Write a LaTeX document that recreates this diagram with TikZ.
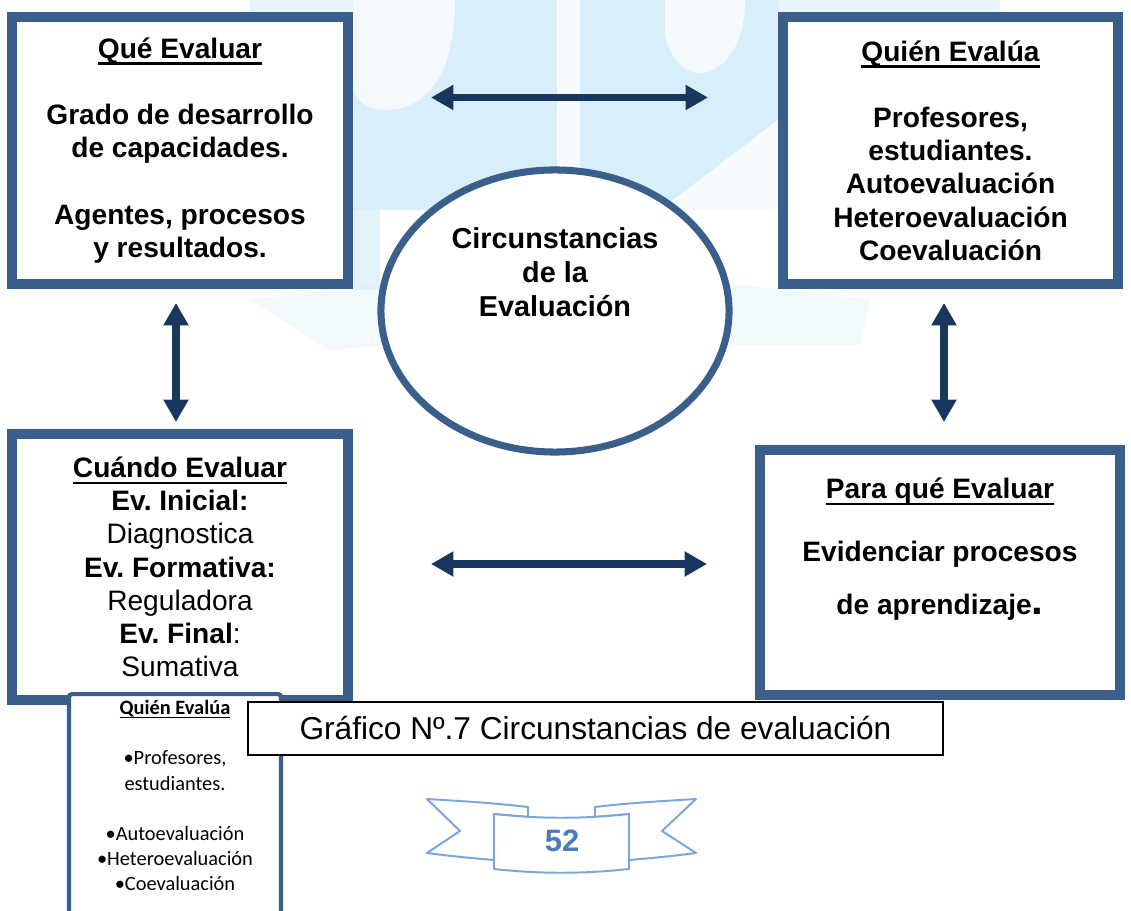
\documentclass[tikz,border=0pt]{standalone}
\usepackage{fontspec}
\setmainfont{Liberation Sans}
\newfontfamily\carlito{Carlito}
\usetikzlibrary{positioning,arrows.meta,shapes.geometric}
\definecolor{boxblue}{HTML}{3A5F8B}
\definecolor{arrowblue}{HTML}{17375E}
\definecolor{ribbonblue}{HTML}{7BA6DD}
\definecolor{numblue}{HTML}{4A7EBB}
\definecolor{wmblue}{HTML}{D8EEFB}
\frenchspacing
% underlined title: #1 drop, #2 rule thickness, #3 text
\newcommand{\ultxt}[3]{\leavevmode\setbox0=\hbox{#3}\rlap{\rule[-#1]{\wd0}{#2}}\box0}

\begin{document}
\begin{tikzpicture}[x=0.025cm,y=-0.025cm,
  evalbox/.style={draw=boxblue, line width=7pt, fill=white, align=center, inner sep=0pt,
    font=\fontsize{20}{23.6}\selectfont\bfseries},
  dblarrow/.style={{Triangle[length=16pt,width=17pt]}-{Triangle[length=16pt,width=17pt]},
    line width=5.5pt, arrowblue},
  wm/.style={fill=wmblue}]

\clip (0,0) rectangle (1131,911);
\fill[white] (0,0) rectangle (1131,911);

% marca de agua de fondo
\fill[wm] (353,0) rectangle (778,210);
\fill[wm, opacity=0.6] (250,0) rectangle (1000,12);
\fill[wm, opacity=0.7] (353,0) rectangle (380,290);
\fill[white, opacity=0.8] (557,0) rectangle (580,210); % franja blanca
\fill[white, opacity=0.7] (353,0) -- (455,0) .. controls (455,70) and (430,110) .. (385,110) .. controls (368,110) and (353,100) .. (353,85) -- cycle;
\fill[white, opacity=0.7] (665,0) -- (745,0) .. controls (745,50) and (720,73) .. (700,73) .. controls (680,73) and (665,50) .. (665,30) -- cycle;
\fill[white, opacity=0.8] (660,210) -- (778,210) -- (778,120) -- cycle;
\fill[wm, opacity=0.35] (250,300) -- (385,283) -- (385,345) -- (330,350) -- cycle;
\fill[wm, opacity=0.35] (725,283) -- (870,300) -- (860,345) -- (725,345) -- cycle;

% cajas
\node[evalbox, minimum width=8.4cm, minimum height=6.675cm] (que) at (180,150.5)
  {\ultxt{4.6pt}{1.8pt}{Qué Evaluar}\\[23.6pt]
   Grado de desarrollo\\ de capacidades.\\[23.6pt]
   Agentes, procesos\\ y resultados.};
\node[evalbox, minimum width=8.375cm, minimum height=6.675cm] (quien) at (950.5,150.5)
  {\ultxt{4.6pt}{1.8pt}{Quién Evalúa}\\[23.6pt]
   Profesores,\\ estudiantes.\\ Autoevaluación\\ Heteroevaluación\\ Coevaluación};
\node[evalbox, minimum width=8.4cm, minimum height=6.65cm] (cuando) at (180,567)
  {\ultxt{4.6pt}{1.8pt}{Cuándo Evaluar}\\
   Ev. Inicial:\\ {\mdseries Diagnostica}\\
   Ev. Formativa:\\ {\mdseries Reguladora}\\
   Ev. Final{\mdseries :}\\ {\mdseries Sumativa}};
\node[evalbox, minimum width=9cm, minimum height=6.125cm] (para) at (940,572.5)
  {\ultxt{4.6pt}{1.8pt}{Para qué Evaluar}\\[21pt]
   Evidenciar procesos\\[14pt]
   de aprendizaje{\fontsize{30}{30}\selectfont.}\\[14pt]\mbox{}};

% elipse central
\node[ellipse, draw=boxblue, line width=5pt, fill=white, minimum width=8.7cm, minimum height=7.05cm] (circ) at (555,311) {};
\node[align=center, font=\fontsize{20.5}{24}\selectfont\bfseries] (circtxt) at (555,272)
  {Circunstancias\\ de la\\ Evaluación};

% flechas dobles
\draw[dblarrow, shorten <=1.95cm, shorten >=1.75cm] (que.east |- 0,97.5) -- (quien.west |- 0,97.5);
\draw[dblarrow, shorten <=1.95cm, shorten >=1.2cm] (cuando.east |- 0,564) -- (para.west |- 0,564);
\draw[dblarrow, shorten <=0.35cm, shorten >=0.175cm] (que.south -| 176,0) -- (cuando.north -| 176,0);
\draw[dblarrow, shorten <=0.35cm, shorten >=0.575cm] (quien.south -| 944,0) -- (para.north -| 944,0);

% recuadro pequeño superpuesto
\node[draw=boxblue, line width=3pt, rounded corners=2pt, fill=white, minimum width=5.3cm,
  minimum height=8cm, anchor=north] (mini) at (175,692) {};
\node[anchor=north, align=center, inner sep=0pt, font=\carlito\fontsize{14.5}{17.9}\selectfont]
  (minitxt) at ([yshift=-0.2cm]mini.north)
  {\ultxt{2.6pt}{1pt}{\bfseries Quién Evalúa}\\[17.9pt]
   •Profesores,\\ estudiantes.\\[17.9pt]
   •Autoevaluación\\ •Heteroevaluación\\ •Coevaluación};

% titulo del grafico
\node[draw=black, line width=1.4pt, fill=white, minimum width=17.375cm, minimum height=1.33cm,
  font=\fontsize{22.5}{26}\selectfont] (titulo) at (595.5,728.5)
  {Gráfico Nº.7 Circunstancias de evaluación};

% cinta con el numero de pagina
\begin{scope}[draw=ribbonblue, line width=1.4pt, line join=round]
 \draw[fill=white] (427,799) .. controls (460,801) and (495,803) .. (528,807) -- (528,817)
   -- (494,814) -- (494,860) .. controls (470,858) and (450,856) .. (427,853) -- (460,831) -- cycle;
 \draw[fill=white] (696,799) .. controls (663,801) and (628,803) .. (595,807) -- (595,817)
   -- (629,814) -- (629,860) .. controls (653,858) and (673,856) .. (696,853) -- (662,831) -- cycle;
 \draw[fill=white] (494,814) .. controls (540,819) and (583,819) .. (629,814) -- (629,869)
   .. controls (583,874) and (540,874) .. (494,869) -- cycle;
\end{scope}
\node[font=\fontsize{22}{26}\selectfont\bfseries, text=numblue] (pagina) at (562,841) {52};

\end{tikzpicture}
\end{document}
